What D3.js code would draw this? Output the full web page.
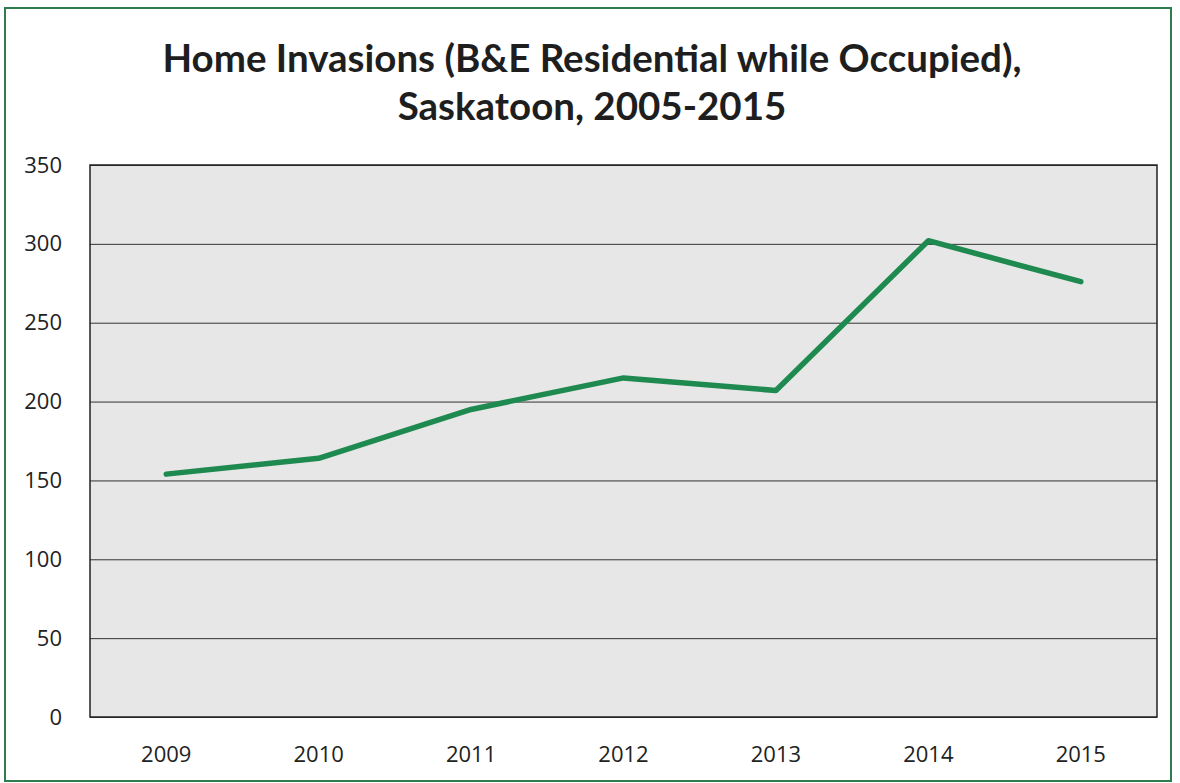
<!DOCTYPE html>
<html><head><meta charset="utf-8">
<script src="https://cdn.jsdelivr.net/npm/d3@7"></script>
<style>
html,body{margin:0;padding:0;background:#fff;}
svg{display:block;}
</style></head>
<body>
<svg id="chart" width="1180" height="783"></svg>
<script>
const years = ["2009","2010","2011","2012","2013","2014","2015"];
const invasions = [154, 164, 195, 215, 207, 302, 276];
const yTicks = [0, 50, 100, 150, 200, 250, 300, 350];
const titleLines = ["Home Invasions (B&E Residential while Occupied),", "Saskatoon, 2005-2015"];

const svg = d3.select("#chart");
const m = {left: 90, right: 1157, top: 165, bottom: 717};

// outer frame
svg.append("rect").attr("x", 5).attr("y", 8).attr("width", 1166).attr("height", 773)
  .attr("fill", "#fff").attr("stroke", "#2f7d4f").attr("stroke-width", 2);

// title
svg.append("g").selectAll("text").data(titleLines).join("text")
  .attr("x", 592).attr("y", (d,i) => 72 + i*48)
  .attr("text-anchor", "middle")
  .attr("font-family", "Lato, 'Open Sans', sans-serif")
  .attr("font-weight", "bold").attr("font-size", 38.5)
  .attr("fill", "#1e1e1e").text(d => d);

const x = d3.scaleBand().domain(years).range([m.left, m.right]);
const y = d3.scaleLinear().domain([0, 350]).range([m.bottom, m.top]);

// plot background
svg.append("rect").attr("x", m.left).attr("y", m.top)
  .attr("width", m.right - m.left).attr("height", m.bottom - m.top)
  .attr("fill", "#e7e7e7");

// gridlines
svg.append("g").attr("transform", `translate(${m.left},0)`)
  .call(d3.axisLeft(y).tickValues(yTicks).tickSize(-(m.right - m.left)).tickFormat(""))
  .call(g => g.select(".domain").remove())
  .call(g => g.selectAll("line").attr("stroke", "#333").attr("stroke-width", 1));

// y labels
svg.append("g").attr("transform", `translate(${m.left},0)`)
  .call(d3.axisLeft(y).tickValues(yTicks).tickSize(0).tickPadding(28))
  .call(g => g.select(".domain").remove())
  .call(g => g.selectAll("text").attr("font-family", "'Open Sans', sans-serif")
     .attr("font-size", 22).attr("fill", "#222"));

// x labels
svg.append("g").attr("transform", `translate(0,${m.bottom})`)
  .call(d3.axisBottom(x).tickSize(0).tickPadding(29))
  .call(g => g.select(".domain").remove())
  .call(g => g.selectAll("text").attr("font-family", "'Open Sans', sans-serif")
     .attr("font-size", 22).attr("fill", "#222"));

// plot border
svg.append("rect").attr("x", m.left).attr("y", m.top)
  .attr("width", m.right - m.left).attr("height", m.bottom - m.top)
  .attr("fill", "none").attr("stroke", "#222").attr("stroke-width", 1.5);

// line
const line = d3.line().x((d,i) => x(years[i]) + x.bandwidth()/2).y(d => y(d));
svg.append("path").datum(invasions).attr("d", line)
  .attr("fill", "none").attr("stroke", "#1f8a50").attr("stroke-width", 5.5)
  .attr("stroke-linejoin", "round").attr("stroke-linecap", "round");
</script>
</body></html>
